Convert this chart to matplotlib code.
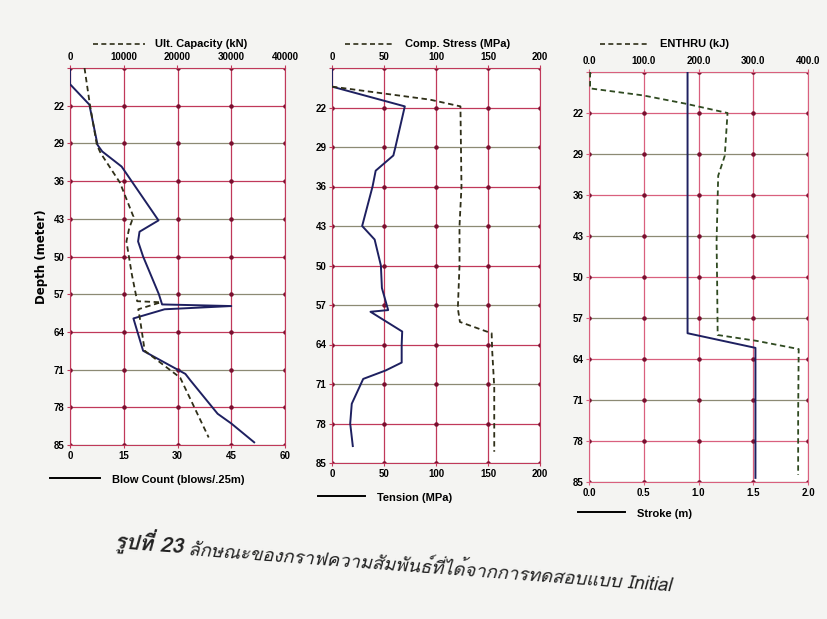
import numpy as np
import matplotlib
matplotlib.use("Agg")
import matplotlib.pyplot as plt
from matplotlib.lines import Line2D
from matplotlib import font_manager
from matplotlib.ft2font import FT2Font

# ---- data (depth in m) ----
blow_depth = [15, 18, 21.8, 29.3, 30.5, 33.3, 43.3, 45.4, 47.2, 50, 57, 58.9, 59.2, 59.8,
              61.5, 67.5, 71.8, 73, 79.2, 81, 84.5]
blow_count = [0, 0, 5.4, 7.7, 9, 14.4, 24.7, 19.4, 19, 20.4, 24.8, 25.7, 45, 26.4,
              17.7, 20.4, 32.2, 33.6, 41.2, 45, 51.4]

cap_depth = [15, 21.8, 29.3, 30.8, 36.3, 42.6, 44.8, 47.2, 53.3, 58.3, 58.5, 59.8,
             61.5, 67.5, 70.3, 72.5, 83.6]
ult_capacity = [2700, 3700, 5000, 5700, 9300, 11800, 11000, 10500, 11500, 12500, 16900, 12700,
                13000, 13900, 17600, 20500, 25800]

ten_depth = [15, 18.3, 21.8, 29, 30.5, 33.2, 36, 43, 45.4, 50, 54, 57.9, 58.2, 61.7,
             64, 67.2, 68.6, 70.1, 74.5, 78, 82]
tension = [0, 0, 70, 61, 59, 42, 39, 29, 41, 47, 48, 54, 37, 67.5,
           67, 67, 51.6, 30, 19, 17.5, 20]

comp_depth = [18.3, 19.5, 20.6, 21.8, 29, 36, 43, 50, 57.6, 60, 61.7, 62, 65, 71.5, 78, 83]
comp_stress = [0, 49, 94, 123.5, 124, 124.5, 122.6, 122.6, 121, 123, 148.7, 153.5, 154, 156, 156, 156]

stroke_depth = [15, 59.6, 62.1, 84.3]
stroke = [0.90, 0.90, 1.52, 1.52]

enthru_depth = [15, 17.8, 19, 20.4, 22, 29.3, 32.7, 36.4, 44, 50.6, 59.9, 60.9, 62.3, 73.5, 83.8]
enthru = [2, 2, 99, 176, 253, 248, 236, 235, 233, 234, 235, 306, 383, 382, 382]

depth_ticks = [15, 22, 29, 36, 43, 50, 57, 64, 71, 78, 85]

caption_bold = "รูปที่ 23"
caption_rest = "ลักษณะของกราฟความสัมพันธ์ที่ได้จากการทดสอบแบบ Initial"


def find_thai_font():
    for fe in font_manager.fontManager.ttflist:
        try:
            if 0x0E01 in FT2Font(fe.fname).get_charmap():
                return fe.name
        except Exception:
            pass
    return "DejaVu Sans"


W, H = 827, 619


def box(l, t, r, b):
    return [l / W, 1 - b / H, (r - l) / W, (b - t) / H]


def fx(x):
    return x / W


def fy(y):
    return 1 - y / H


RED = "#c0395a"
GREY = "#8c8a74"
SOLID = "#1e2060"
DASH = "#2f2f18"

fig = plt.figure(figsize=(8.27, 6.19), dpi=100, facecolor="#f4f4f2")
tick_font = dict(family="Liberation Sans", fontsize=7, fontweight="bold")


def panel(rect, bx, by, blim, bticks, blabels, tx, ty, tlim, tticks, tlabels,
          dash_color, grid_color):
    ax = fig.add_axes(rect)
    ax.set_facecolor("white")
    ax.set_xlim(*blim)
    ax.set_ylim(85, 15)
    ax.set_xticks(bticks)
    ax.set_xticklabels(blabels, **tick_font)
    ax.set_yticks(depth_ticks)
    ax.set_yticklabels([""] + [str(d) for d in depth_ticks[1:]], **tick_font)
    ax.tick_params(length=2, pad=2, color=grid_color)
    for x in bticks:
        ax.axvline(x, color=grid_color, lw=0.9, zorder=1)
    for i, d in enumerate(depth_ticks):
        ax.axhline(d, color=grid_color if i % 2 == 1 else GREY, lw=0.9, zorder=1)
    gx, gy = np.meshgrid(bticks, depth_ticks)
    ax.scatter(gx.ravel(), gy.ravel(), s=5, color="#7a1030", zorder=2)
    for s in ax.spines.values():
        s.set_color(grid_color)
    ax.plot(bx, by, color=SOLID, lw=1.4, zorder=4)

    ax2 = ax.twiny()
    ax2.set_xlim(*tlim)
    ax2.set_xticks(tticks)
    ax2.set_xticklabels(tlabels, **tick_font)
    ax2.tick_params(length=2, pad=2, color=grid_color)
    for s in ax2.spines.values():
        s.set_visible(False)
    ax2.plot(tx, ty, color=dash_color, lw=1.3, ls=(0, (3, 2)), zorder=4)
    return ax


ax1 = panel(box(70, 68, 285, 445), blow_count, blow_depth, (0, 60), [0, 15, 30, 45, 60],
            ["0", "15", "30", "45", "60"],
            ult_capacity, cap_depth, (0, 40000), [0, 10000, 20000, 30000, 40000],
            ["0", "10000", "20000", "30000", "40000"], DASH, RED)
ax1.set_ylabel("Depth (meter)", fontsize=8.5, fontweight="bold", labelpad=4)

panel(box(332, 68, 540, 463), tension, ten_depth, (0, 200), [0, 50, 100, 150, 200],
      ["0", "50", "100", "150", "200"],
      comp_stress, comp_depth, (0, 200), [0, 50, 100, 150, 200],
      ["0", "50", "100", "150", "200"], DASH, RED)

panel(box(589, 72, 808, 482), stroke, stroke_depth, (0, 2), [0, 0.5, 1.0, 1.5, 2.0],
      ["0.0", "0.5", "1.0", "1.5", "2.0"],
      enthru, enthru_depth, (0, 400), [0, 100, 200, 300, 400],
      ["0.0", "100.0", "200.0", "300.0", "400.0"], "#2f4a20", "#d9607e")

# legend keys above and below each panel
legend_font = dict(fontsize=8, fontweight="bold", va="center", family="Liberation Sans")
top_keys = [(93, 145, 44, "Ult. Capacity (kN)"),
            (345, 395, 44, "Comp. Stress (MPa)"),
            (600, 650, 44, "ENTHRU (kJ)")]
for x0, x1, y, label in top_keys:
    fig.add_artist(Line2D([fx(x0), fx(x1)], [fy(y), fy(y)], color=DASH, lw=1.2,
                          ls=(0, (3, 2)), transform=fig.transFigure))
    fig.text(fx(x1 + 10), fy(y), label, **legend_font)

bottom_keys = [(50, 100, 478, "Blow Count (blows/.25m)"),
               (318, 365, 496, "Tension (MPa)"),
               (578, 625, 512, "Stroke (m)")]
for x0, x1, y, label in bottom_keys:
    fig.add_artist(Line2D([fx(x0), fx(x1)], [fy(y), fy(y)], color="black", lw=1.4,
                          transform=fig.transFigure))
    fig.text(fx(x1 + 12), fy(y + 2), label, **legend_font)

# caption, slanted like the photographed page
thai = find_thai_font()
angle = -4.3
cap_x, cap_y = 114, 549
first = fig.text(fx(cap_x), fy(cap_y), caption_bold, family=[thai, "DejaVu Sans"],
                 fontsize=15, fontweight="bold", style="italic", ha="left", va="baseline",
                 color="#222222")
renderer = fig.canvas.get_renderer()
w = first.get_window_extent(renderer).width + 6
first.set_rotation(angle)
first.set_rotation_mode("anchor")
rad = np.deg2rad(angle)
fig.text(fx(cap_x + w * np.cos(rad)), fy(cap_y - w * np.sin(rad)), caption_rest,
         family=[thai, "DejaVu Sans"], fontsize=13.3, style="italic", rotation=angle,
         rotation_mode="anchor", ha="left", va="baseline", color="#222222")

fig.savefig("out.png", dpi=100, facecolor=fig.get_facecolor())
